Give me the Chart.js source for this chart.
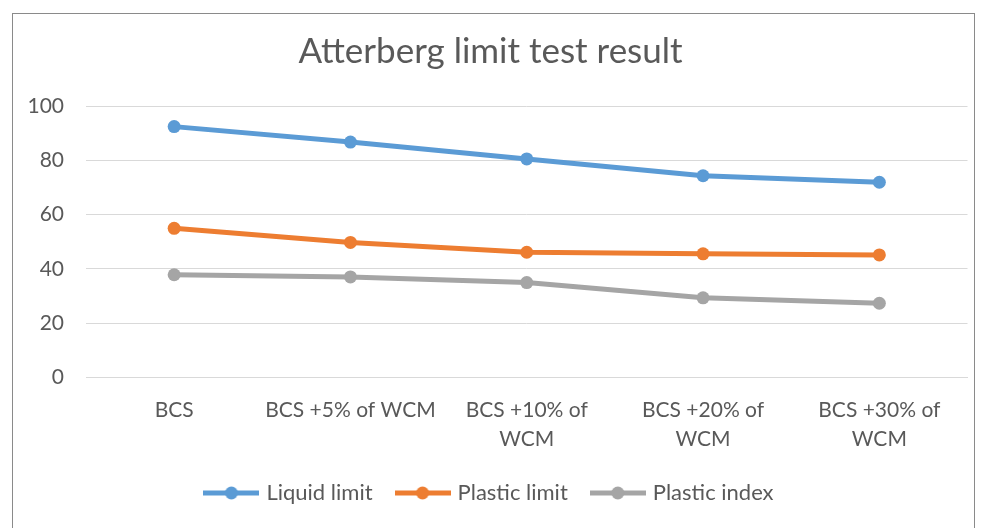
<!DOCTYPE html>
<html>
<head>
<meta charset="utf-8">
<script src="https://cdn.jsdelivr.net/npm/chart.js@4.4.1/dist/chart.umd.min.js"></script>
<style>
  html, body { margin: 0; padding: 0; background: #fff; }
  .chart-box {
    position: absolute;
    left: 12px;
    top: 13px;
    width: 961px;
    height: 530px;
    border: 1px solid #8a8a8a;
  }
</style>
</head>
<body>
<div class="chart-box"><canvas id="atterbergChart"></canvas></div>
<script>
const categories = [
  "BCS",
  "BCS +5% of WCM",
  ["BCS +10% of", "WCM"],
  ["BCS +20% of", "WCM"],
  ["BCS +30% of", "WCM"]
];
const liquidLimit = [92.4, 86.7, 80.5, 74.3, 71.9];
const plasticLimit = [54.9, 49.7, 46.1, 45.5, 45.1];
const plasticIndex = [37.8, 37.0, 34.9, 29.3, 27.3];
const yTicks = [0, 20, 40, 60, 80, 100];

const FONT = "Lato, 'Open Sans', sans-serif";
const TEXT = "#595959";

// legend marker: line with a dot, like the office style legend
function legendMarker(color) {
  const c = document.createElement("canvas");
  c.width = 56;
  c.height = 16;
  const g = c.getContext("2d");
  g.strokeStyle = color;
  g.lineWidth = 5;
  g.beginPath();
  g.moveTo(0, 8);
  g.lineTo(56, 8);
  g.stroke();
  g.fillStyle = color;
  g.beginPath();
  g.arc(28, 8, 6.5, 0, Math.PI * 2);
  g.fill();
  return c;
}

function series(label, data, color) {
  return {
    label,
    data,
    borderColor: color,
    backgroundColor: color,
    borderWidth: 5,
    pointRadius: 6.5,
    pointHoverRadius: 6.5,
    pointBorderWidth: 0,
    pointStyle: "circle",
    legendStyle: legendMarker(color),
    tension: 0
  };
}

document.addEventListener("DOMContentLoaded", () => {
  const ctx = document.getElementById("atterbergChart");
  const datasets = [
    series("Liquid limit", liquidLimit, "#5B9BD5"),
    series("Plastic limit", plasticLimit, "#ED7D31"),
    series("Plastic index", plasticIndex, "#A5A5A5")
  ];

  new Chart(ctx, {
    type: "line",
    data: { labels: categories, datasets },
    options: {
      responsive: true,
      maintainAspectRatio: false,
      animation: false,
      layout: { padding: { left: 0, right: 6, top: 0, bottom: 30 } },
      plugins: {
        title: {
          display: true,
          text: "Atterberg limit test result",
          color: TEXT,
          font: { family: FONT, size: 35, weight: "normal" },
          padding: { top: 17, bottom: 33 }
        },
        legend: {
          position: "bottom",
          labels: {
            color: TEXT,
            font: { family: FONT, size: 22 },
            usePointStyle: true,
            pointStyleWidth: 48,
            padding: 26,
            generateLabels(chart) {
              return chart.data.datasets.map((d, i) => ({
                text: d.label,
                fontColor: TEXT,
                pointStyle: d.legendStyle,
                datasetIndex: i,
                lineWidth: 0,
                strokeStyle: "transparent",
                fillStyle: "transparent"
              }));
            }
          }
        },
        tooltip: { enabled: false }
      },
      scales: {
        x: {
          offset: true,
          grid: { display: false, drawTicks: false },
          border: { display: true, color: "#d9d9d9", width: 1 },
          afterFit(scale) {
            scale.height = scale.height - 16;
          },
          ticks: {
            color: TEXT,
            font: { family: FONT, size: 21, lineHeight: 1.35 },
            padding: 19,
            maxRotation: 0,
            autoSkip: false
          }
        },
        y: {
          min: 0,
          max: 100,
          afterBuildTicks(scale) {
            scale.ticks = yTicks.map((v) => ({ value: v }));
          },
          afterFit(scale) {
            scale.width = 73;
          },
          grid: { color: "#d9d9d9", lineWidth: 1, drawTicks: false },
          border: { display: false },
          ticks: {
            color: TEXT,
            font: { family: FONT, size: 21 },
            padding: 22
          }
        }
      }
    }
  });
});
</script>
</body>
</html>
